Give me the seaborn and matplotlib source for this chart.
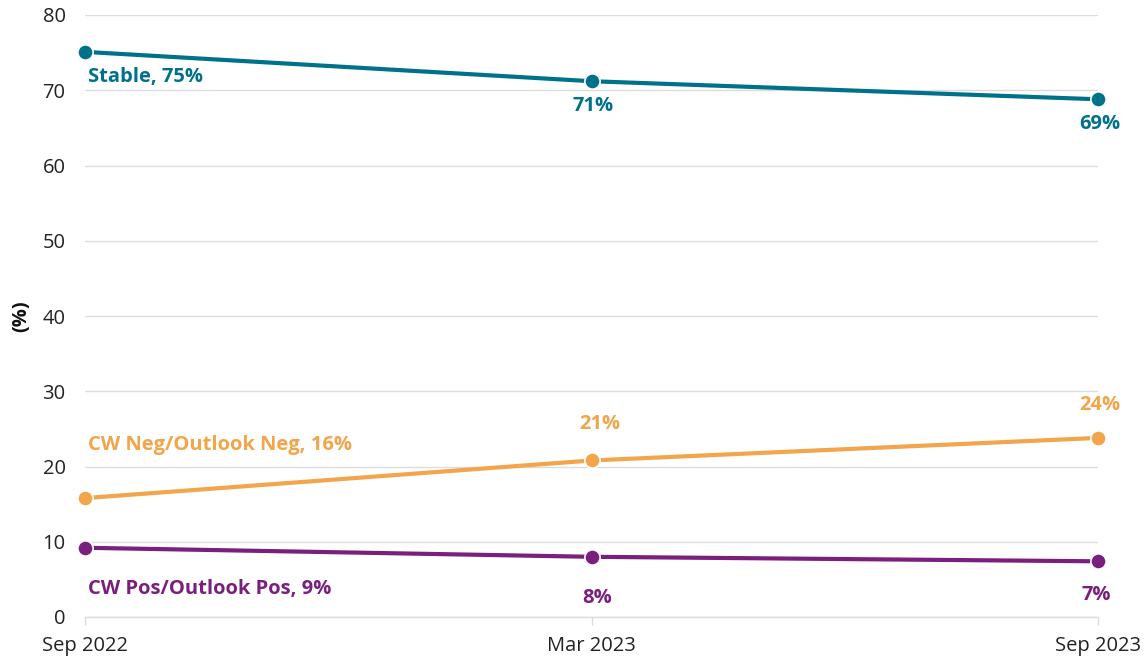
import matplotlib
matplotlib.use("Agg")
import matplotlib.pyplot as plt
import seaborn as sns
import pandas as pd

periods = ["Sep 2022", "Mar 2023", "Sep 2023"]
stable = [75.1, 71.2, 68.8]
cw_neg = [15.8, 20.8, 23.8]
cw_pos = [9.2, 8.0, 7.4]
series_names = ["Stable", "CW Neg/Outlook Neg", "CW Pos/Outlook Pos"]
colors = {"Stable": "#00718b", "CW Neg/Outlook Neg": "#f2a54a", "CW Pos/Outlook Pos": "#7a1f7e"}
y_ticks = [0, 10, 20, 30, 40, 50, 60, 70, 80]

rows = []
for name, vals in zip(series_names, [stable, cw_neg, cw_pos]):
    for i, (p, v) in enumerate(zip(periods, vals)):
        rows.append({"series": name, "x": i, "period": p, "value": v})
df = pd.DataFrame(rows)

sns.set_theme(style="white")
plt.rcParams["font.family"] = ["Open Sans", "DejaVu Sans"]

W, H = 1147, 661
fig = plt.figure(figsize=(W / 100, H / 100), dpi=100)
ax = fig.add_axes([85 / W, (H - 617) / H, (1098 - 85) / W, (617 - 15) / H])

sns.lineplot(data=df, x="x", y="value", hue="series", palette=colors, ax=ax,
             marker="o", markersize=11, markeredgecolor="white", markeredgewidth=1.2,
             linewidth=3, legend=False)
for ln in ax.lines:
    ln.set_clip_on(False)

ax.set_xlim(0, 2)
ax.set_ylim(0, 80)
ax.set_yticks(y_ticks)
ax.set_xticks(range(len(periods)))
ax.set_xticklabels(periods)
ax.grid(axis="y", color="#dcdcdc", linewidth=1)
ax.set_axisbelow(True)
for s in ["top", "right", "left"]:
    ax.spines[s].set_visible(False)
ax.spines["bottom"].set_color("#dcdcdc")
ax.spines["bottom"].set_linewidth(1)
ax.tick_params(axis="x", length=6, width=1, color="#dcdcdc", labelsize=14.5, labelcolor="#222222", pad=8, bottom=True)
ax.tick_params(axis="y", length=0, labelsize=14.5, labelcolor="#222222", pad=14)
ax.set_xlabel("")
ax.set_ylabel("(%)", fontsize=14.5, fontweight="bold", color="#111111", labelpad=8)

def px(v):
    return v * 0.72

fs = 14.5
def lab(text, x, y, dx, dy, ha, key):
    ax.annotate(text, (x, y), xytext=(px(dx), px(dy)), textcoords="offset points",
                ha=ha, va="center", fontsize=fs, fontweight="bold", color=colors[key])

lab(f"Stable, {round(stable[0])}%", 0, stable[0], 3, -25, "left", "Stable")
lab(f"{round(stable[1])}%", 1, stable[1], 2, -25, "center", "Stable")
lab(f"{round(stable[2])}%", 2, stable[2], 2, -25, "center", "Stable")
lab(f"CW Neg/Outlook Neg, {round(cw_neg[0])}%", 0, cw_neg[0], 3, 53, "left", "CW Neg/Outlook Neg")
lab(f"{round(cw_neg[1])}%", 1, cw_neg[1], 8, 36, "center", "CW Neg/Outlook Neg")
lab(f"{round(cw_neg[2])}%", 2, cw_neg[2], 2, 33, "center", "CW Neg/Outlook Neg")
lab(f"CW Pos/Outlook Pos, {round(cw_pos[0])}%", 0, cw_pos[0], 3, -41, "left", "CW Pos/Outlook Pos")
lab(f"{round(cw_pos[1])}%", 1, cw_pos[1], 6, -41, "center", "CW Pos/Outlook Pos")
lab(f"{round(cw_pos[2])}%", 2, cw_pos[2], -2, -34, "center", "CW Pos/Outlook Pos")

fig.savefig("out.png", dpi=100)
